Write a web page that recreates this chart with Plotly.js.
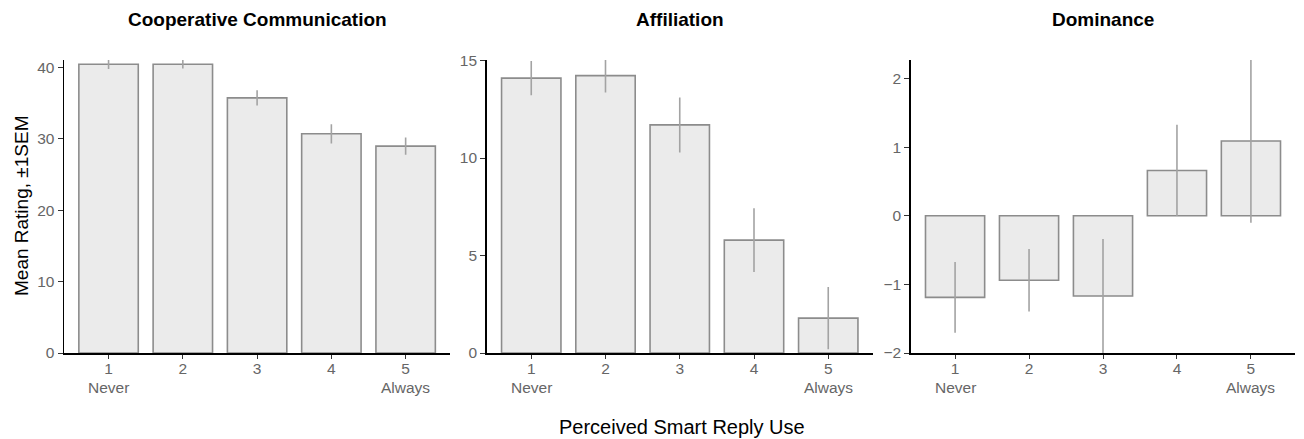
<!DOCTYPE html>
<html>
<head>
<meta charset="utf-8">
<script src="https://cdn.plot.ly/plotly-3.0.1.min.js"></script>
<style>html,body{margin:0;padding:0;background:#fff;}#chart{width:1304px;height:439px;}</style>
</head>
<body>
<div id="chart"></div>
<script>
// Data
const levels = [1, 2, 3, 4, 5];
const tickLabels = ["1", "2", "3", "4", "5"];
const endLabels = ["Never", "Always"];
const panelTitles = ["Cooperative Communication", "Affiliation", "Dominance"];

const coopMean = [40.4, 40.4, 35.7, 30.67, 28.95];
const coopSEM  = [0.65, 0.6, 1.05, 1.35, 1.2];

const affilMean = [14.1, 14.23, 11.7, 5.79, 1.79];
const affilSEM  = [0.88, 0.87, 1.41, 1.63, 1.6];

const domMean = [-1.19, -0.94, -1.17, 0.66, 1.09];
const domSEM  = [0.515, 0.455, 0.83, 0.665, 1.19];

const W = 1304, H = 439;
const font = "Liberation Sans, Arial, Helvetica, sans-serif";
const dom = [[64, 450.2], [486.7, 872.8], [910.7, 1295.3]].map(d => [d[0] / W, d[1] / W]);
const yTop = 1 - 60 / H, yBot = 1 - 353 / H;

function barTrace(means, sems, i) {
  return {
    type: 'bar', x: levels, y: means, width: 0.8,
    xaxis: i === 0 ? 'x' : 'x' + (i + 1), yaxis: i === 0 ? 'y' : 'y' + (i + 1),
    marker: { color: '#EBEBEB', line: { color: '#8C8C8C', width: 1.6 } },
    error_y: { type: 'data', array: sems, visible: true, color: '#A3A3A3', thickness: 1.6, width: 0 },
    hoverinfo: 'skip', showlegend: false
  };
}

const data = [barTrace(coopMean, coopSEM, 0), barTrace(affilMean, affilSEM, 1), barTrace(domMean, domSEM, 2)];

function xax(i) {
  return {
    domain: dom[i], range: [0.4, 5.6], tickvals: levels, ticktext: tickLabels,
    showline: true, linecolor: '#000', linewidth: 1.5, ticks: 'outside', ticklen: 4,
    tickcolor: '#333', tickwidth: 1, showgrid: false, zeroline: false,
    ticklabelstandoff: -3,
    tickfont: { family: font, size: 15.5, color: '#666' }, fixedrange: true,
    anchor: i === 0 ? 'y' : 'y' + (i + 1)
  };
}
function yax(i, range, dtick) {
  return {
    domain: [yBot, yTop], range: range, dtick: dtick, tick0: 0,
    showline: true, linecolor: '#000', linewidth: 1.5, ticks: 'outside', ticklen: 5,
    tickcolor: '#333', tickwidth: 1, showgrid: false, zeroline: false,
    tickfont: { family: font, size: 15.5, color: '#666' }, fixedrange: true,
    anchor: i === 0 ? 'x' : 'x' + (i + 1)
  };
}

const annotations = panelTitles.map((t, i) => ({
  text: '<b>' + t + '</b>', xref: 'paper', yref: 'paper',
  x: (dom[i][0] + dom[i][1]) / 2, y: 1 - 20 / H, xanchor: 'center', yanchor: 'middle',
  showarrow: false, font: { family: font, size: 19, color: '#000' }
}));
[0, 1, 2].forEach(i => {
  const xr = i === 0 ? 'x' : 'x' + (i + 1);
  annotations.push({ text: endLabels[0], xref: xr, yref: 'paper', x: levels[0], y: 1 - 387 / H,
    xanchor: 'center', yanchor: 'middle', showarrow: false, font: { family: font, size: 15.5, color: '#666' } });
  annotations.push({ text: endLabels[1], xref: xr, yref: 'paper', x: levels[4], y: 1 - 387 / H,
    xanchor: 'center', yanchor: 'middle', showarrow: false, font: { family: font, size: 15.5, color: '#666' } });
});
annotations.push({
  text: 'Mean Rating, ±1SEM', xref: 'paper', yref: 'paper', x: 21 / W, y: 1 - 206 / H,
  xanchor: 'center', yanchor: 'middle', textangle: -90, showarrow: false,
  font: { family: font, size: 19, color: '#000' }
});
annotations.push({
  text: 'Perceived Smart Reply Use', xref: 'paper', yref: 'paper', x: 682 / W, y: 1 - 427 / H,
  xanchor: 'center', yanchor: 'middle', showarrow: false,
  font: { family: font, size: 20, color: '#000' }
});

const layout = {
  width: W, height: H, margin: { l: 0, r: 0, t: 0, b: 0 },
  paper_bgcolor: '#fff', plot_bgcolor: '#fff', bargap: 0.2,
  xaxis: xax(0), xaxis2: xax(1), xaxis3: xax(2),
  yaxis: yax(0, [0, 41.0], 10), yaxis2: yax(1, [0, 15.03], 5), yaxis3: yax(2, [-2, 2.27], 1),
  annotations: annotations, showlegend: false
};

Plotly.newPlot('chart', data, layout, { displayModeBar: false, staticPlot: true });
</script>
</body>
</html>
